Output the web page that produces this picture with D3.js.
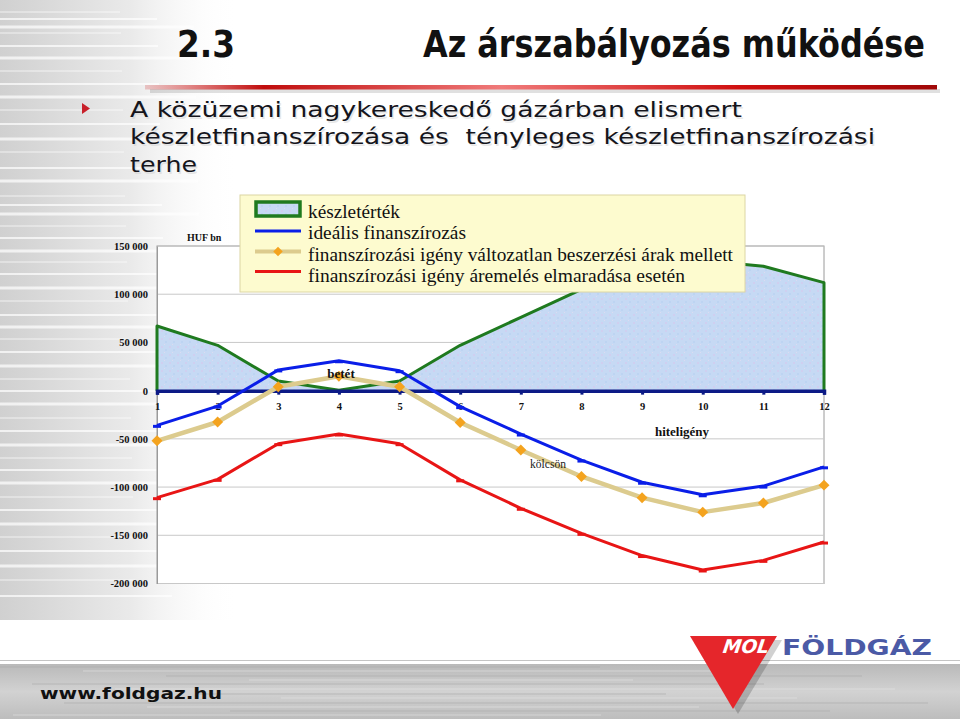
<!DOCTYPE html>
<html><head><meta charset="utf-8">
<script src="https://cdn.jsdelivr.net/npm/d3@7"></script>
<style>html,body{margin:0;padding:0;background:#fff;}svg{display:block;}</style>
</head><body>
<script>
// ---- data ----
const months = [1,2,3,4,5,6,7,8,9,10,11,12];
const keszletertek = [67000,47000,10000,500,10000,47000,76000,105000,125000,135000,129000,112000];
const idealis = [-36000,-16000,21500,31000,20700,-16600,-45000,-72000,-95000,-108000,-99000,-79000];
const valtozatlan = [-52000,-32500,4000,15000,4000,-33000,-61500,-89000,-111000,-126000,-116500,-98000];
const aremeles = [-111000,-92000,-55000,-45000,-55000,-92500,-122000,-148000,-171000,-186000,-176000,-157000];
const yTicks = [150000,100000,50000,0,-50000,-100000,-150000,-200000];
const legendLabels = ["készletérték","ideális finanszírozás","finanszírozási igény változatlan beszerzési árak mellett","finanszírozási igény áremelés elmaradása esetén"];

const W=960,H=719;
const svg=d3.select("body").append("svg").attr("width",W).attr("height",H);
const defs=svg.append("defs");

// background streaks on the left
const bg=defs.append("linearGradient").attr("id","bgL").attr("x1",0).attr("x2",1);
bg.append("stop").attr("offset",0).attr("stop-color","#d0d0d0");
bg.append("stop").attr("offset",0.55).attr("stop-color","#eaeaea");
bg.append("stop").attr("offset",1).attr("stop-color","#fff").attr("stop-opacity",0);
svg.append("rect").attr("x",0).attr("y",0).attr("width",240).attr("height",620).attr("fill","url(#bgL)");
const streakY=[12,19,27,33,46,58,71,84,97,110,124,139,152,168,181,196,205,214,226,238,251,262,274,288,301,315,327,339,352,366,379,391,404,418,431,445,458,470,483,497,510,524,537,551,566,580,596];
svg.append("g").selectAll("line").data(streakY).join("line")
  .attr("x1",0).attr("x2",(d,i)=>120+(i*37)%110).attr("y1",d=>d).attr("y2",d=>d)
  .attr("stroke","#fff").attr("stroke-width",(d,i)=>1+(i%3)).attr("opacity",0.7);

// ---- title ----
svg.append("text").attr("x",177).attr("y",57).attr("font-family","DejaVu Sans Condensed, DejaVu Sans").attr("font-weight","bold")
  .attr("font-size",37).attr("textLength",58).attr("lengthAdjust","spacingAndGlyphs").attr("fill","#111").text("2.3");
svg.append("text").attr("x",423).attr("y",57).attr("font-family","DejaVu Sans Condensed, DejaVu Sans").attr("font-weight","bold")
  .attr("font-size",37).attr("textLength",502).attr("lengthAdjust","spacingAndGlyphs").attr("fill","#111").text("Az árszabályozás működése");

// red rule
const rg=defs.append("linearGradient").attr("id","redRule").attr("x1",0).attr("x2",1);
rg.append("stop").attr("offset",0).attr("stop-color","#c81010").attr("stop-opacity",0.2);
rg.append("stop").attr("offset",0.15).attr("stop-color","#c00d0d");
rg.append("stop").attr("offset",0.45).attr("stop-color","#f07a7a");
rg.append("stop").attr("offset",0.75).attr("stop-color","#d01010");
rg.append("stop").attr("offset",1).attr("stop-color","#a00808");
svg.append("rect").attr("x",150).attr("y",89).attr("width",790).attr("height",4).attr("fill","#000").attr("opacity",0.12);
svg.append("rect").attr("x",145).attr("y",85).attr("width",792).attr("height",4.5).attr("fill","url(#redRule)");

// bullet and subtitle
svg.append("path").attr("d","M82,103 L90,108.5 L82,114 Z").attr("fill","#c8202a");
const sub=[["A közüzemi nagykereskedő gázárban elismert",117,612],["készletfinanszírozása és  tényleges készletfinanszírozási",144,745],["terhe",172,67]];
sub.forEach(s=>{
  svg.append("text").attr("x",131.5).attr("y",s[1]+1.5).attr("font-family","DejaVu Sans, Verdana").attr("font-size",21.5)
    .attr("textLength",s[2]).attr("lengthAdjust","spacingAndGlyphs").attr("fill","#ccc").attr("opacity",0.45).attr("xml:space","preserve").text(s[0]);
  svg.append("text").attr("x",130).attr("y",s[1]).attr("font-family","DejaVu Sans, Verdana").attr("font-size",21.5)
    .attr("textLength",s[2]).attr("lengthAdjust","spacingAndGlyphs").attr("fill","#15151c").attr("xml:space","preserve").text(s[0]);
});

// ---- chart ----
const x=d3.scaleLinear().domain([1,12]).range([157,824]);
const y=d3.scaleLinear().domain([-200000,150000]).range([583.5,246]);
const serif="Liberation Serif, Times New Roman, serif";
const fmt=d3.formatLocale({decimal:".",thousands:" ",grouping:[3],minus:"-"}).format(",d");

svg.append("rect").attr("x",157).attr("y",246).attr("width",667).attr("height",337.5).attr("fill","#fff").attr("stroke","#9a9a9a").attr("stroke-width",1);
svg.append("g").selectAll("line").data(yTicks.filter(d=>d!==0)).join("line")
  .attr("x1",157).attr("x2",824).attr("y1",d=>y(d)).attr("y2",d=>y(d)).attr("stroke","#c8c8c8").attr("stroke-width",1);

const yAxis=d3.axisLeft(y).tickValues(yTicks).tickFormat(fmt).tickSize(0).tickPadding(9);
const ya=svg.append("g").attr("transform","translate(157,0)").call(yAxis);
ya.select(".domain").attr("stroke","#9a9a9a");
ya.selectAll("text").attr("font-family",serif).attr("font-weight","bold").attr("font-size",10.5).attr("fill","#111");

// area
const pat=defs.append("pattern").attr("id","tex").attr("width",8).attr("height",8).attr("patternUnits","userSpaceOnUse");
pat.append("rect").attr("width",8).attr("height",8).attr("fill","#c6d9f4");
pat.append("rect").attr("x",1).attr("y",2).attr("width",2).attr("height",2).attr("fill","#d6c8ec").attr("opacity",0.6);
pat.append("rect").attr("x",5).attr("y",5).attr("width",2).attr("height",2).attr("fill","#b9d2f2").attr("opacity",0.7);
pat.append("rect").attr("x",4).attr("y",0).attr("width",1).attr("height",1).attr("fill","#e4dcf0").attr("opacity",0.7);

const area=d3.area().x((d,i)=>x(months[i])).y0(y(0)).y1(d=>y(d));
svg.append("path").datum(keszletertek).attr("d",area).attr("fill","url(#tex)");
const outline=[[months[0],0]].concat(keszletertek.map((v,i)=>[months[i],v])).concat([[months[11],0]]);
svg.append("path").datum(outline).attr("d",d3.line().x(d=>x(d[0])).y(d=>y(d[1])))
  .attr("fill","none").attr("stroke","#1f7a1f").attr("stroke-width",3).attr("stroke-linejoin","round");

// zero axis
const xAxis=d3.axisBottom(x).tickValues(months).tickFormat(d3.format("d")).tickSize(4).tickPadding(8);
const xa=svg.append("g").attr("transform",`translate(0,${y(0)})`).call(xAxis);
xa.select(".domain").attr("stroke","#0c1a86").attr("stroke-width",3.5);
xa.selectAll(".tick line").attr("stroke","#0c1a86").attr("stroke-width",3);
xa.selectAll("text").attr("font-family",serif).attr("font-weight","bold").attr("font-size",10.5).attr("fill","#111");

const line=d3.line().x((d,i)=>x(months[i])).y(d=>y(d));
function series(data,color,width){
  svg.append("path").datum(data).attr("d",line).attr("fill","none").attr("stroke",color).attr("stroke-width",width).attr("stroke-linejoin","round");
}
series(idealis,"#0a1ee8",3);
svg.append("g").selectAll("line").data(idealis).join("line")
  .attr("x1",(d,i)=>x(months[i])-4).attr("x2",(d,i)=>x(months[i])+4).attr("y1",d=>y(d)+1).attr("y2",d=>y(d)+1)
  .attr("stroke","#0a1ee8").attr("stroke-width",3);
series(valtozatlan,"#dccb8e",4.5);
const diamond=d3.symbol(d3.symbolSquare,60);
svg.append("g").selectAll("path").data(valtozatlan).join("path")
  .attr("d",diamond).attr("transform",(d,i)=>`translate(${x(months[i])},${y(d)}) rotate(45)`).attr("fill","#f4a31e");
series(aremeles,"#e81515",3);
svg.append("g").selectAll("line").data(aremeles).join("line")
  .attr("x1",(d,i)=>x(months[i])-4).attr("x2",(d,i)=>x(months[i])+4).attr("y1",d=>y(d)+1).attr("y2",d=>y(d)+1)
  .attr("stroke","#e81515").attr("stroke-width",3);

// annotations
svg.append("text").attr("x",341).attr("y",378).attr("text-anchor","middle").attr("font-family",serif).attr("font-weight","bold").attr("font-size",13).attr("fill","#111").text("betét");
svg.append("text").attr("x",682).attr("y",436).attr("text-anchor","middle").attr("font-family",serif).attr("font-weight","bold").attr("font-size",13).attr("fill","#111").text("hiteligény");
svg.append("text").attr("x",548).attr("y",468).attr("text-anchor","middle").attr("font-family",serif).attr("font-size",11.5).attr("fill","#222").text("kölcsön");
svg.append("text").attr("x",187).attr("y",241).attr("font-family",serif).attr("font-weight","bold").attr("font-size",10).attr("fill","#111").text("HUF bn");

// legend
const lg=svg.append("g");
lg.append("rect").attr("x",240).attr("y",195).attr("width",505).attr("height",97).attr("fill","#fdfbcf").attr("stroke","#dcd6a4").attr("stroke-width",1);
lg.append("rect").attr("x",256).attr("y",202).attr("width",44).attr("height",14).attr("fill","url(#tex)").attr("stroke","#1f7a1f").attr("stroke-width",3.5);
lg.append("line").attr("x1",255).attr("x2",301).attr("y1",231).attr("y2",231).attr("stroke","#0a1ee8").attr("stroke-width",3);
lg.append("line").attr("x1",255).attr("x2",301).attr("y1",251.5).attr("y2",251.5).attr("stroke","#dccb8e").attr("stroke-width",4);
lg.append("path").attr("d",d3.symbol(d3.symbolSquare,45)).attr("transform","translate(278,251.5) rotate(45)").attr("fill","#f4a31e");
lg.append("line").attr("x1",255).attr("x2",301).attr("y1",271.5).attr("y2",271.5).attr("stroke","#e81515").attr("stroke-width",3);
const lw=[92,158,425,377];
legendLabels.forEach((t,i)=>{
  lg.append("text").attr("x",308).attr("y",218+i*21.3).attr("font-family",serif).attr("font-size",18)
    .attr("textLength",lw[i]).attr("lengthAdjust","spacingAndGlyphs").attr("fill","#111").text(t);
});

// ---- footer ----
const fg=defs.append("linearGradient").attr("id","foot").attr("x1",0).attr("x2",0).attr("y1",0).attr("y2",1);
fg.append("stop").attr("offset",0).attr("stop-color","#b9b9b9");
fg.append("stop").attr("offset",0.5).attr("stop-color","#d2d2d2");
fg.append("stop").attr("offset",1).attr("stop-color","#bdbdbd");
svg.append("line").attr("x1",0).attr("x2",W).attr("y1",660.5).attr("y2",660.5).attr("stroke","#c4c4c4").attr("stroke-width",1);
svg.append("rect").attr("x",0).attr("y",664).attr("width",W).attr("height",55).attr("fill","url(#foot)");
const fStreak=[667,671,676,680,684,689,694,698,703,707,711,715];
svg.append("g").selectAll("line").data(fStreak).join("line")
  .attr("x1",(d,i)=>(i*83)%300).attr("x2",(d,i)=>600+(i*131)%360).attr("y1",d=>d).attr("y2",d=>d)
  .attr("stroke",(d,i)=>i%2?"#e4e4e4":"#a9a9a9").attr("stroke-width",1).attr("opacity",0.6);
svg.append("text").attr("x",40).attr("y",699).attr("font-family","DejaVu Sans, Verdana").attr("font-weight","bold").attr("font-size",15)
  .attr("textLength",182).attr("lengthAdjust","spacingAndGlyphs").attr("fill","#111").text("www.foldgaz.hu");

// logo
svg.append("path").attr("d","M694,640 L782,640 L738,714 Z").attr("fill","#000").attr("opacity",0.18);
svg.append("path").attr("d","M690,636 L777,636 L733,709 Z").attr("fill","#e5262b");
svg.append("text").attr("x",745).attr("y",653).attr("text-anchor","middle").attr("font-family","DejaVu Sans, Verdana").attr("font-weight","bold")
  .attr("font-style","italic").attr("font-size",19).attr("textLength",46).attr("lengthAdjust","spacingAndGlyphs").attr("fill","#fff").attr("transform","skewX(-8) translate(92,0)").text("MOL");
svg.append("text").attr("x",782).attr("y",655).attr("font-family","DejaVu Sans, Verdana").attr("font-weight","bold").attr("font-size",22)
  .attr("textLength",150).attr("lengthAdjust","spacingAndGlyphs").attr("fill","#4b5aa6").text("FÖLDGÁZ");
</script>
</body></html>
